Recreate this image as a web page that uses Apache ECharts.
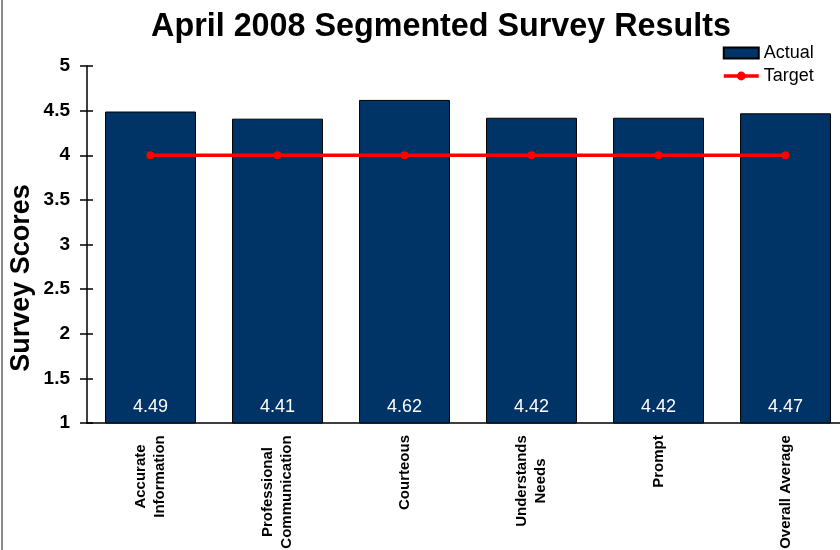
<!DOCTYPE html>
<html>
<head>
<meta charset="utf-8">
<script src="https://cdn.jsdelivr.net/npm/echarts@6/dist/echarts.min.js"></script>
<style>
  html, body { margin: 0; padding: 0; background: #fff; }
  #chart { width: 840px; height: 550px; }
</style>
</head>
<body>
<div id="chart"></div>
<script>
// Survey segments and their scores
const categories = [
  'Accurate\nInformation',
  'Professional\nCommunication',
  'Courteous',
  'Understands\nNeeds',
  'Prompt',
  'Overall Average'
];
const actualScores = [4.49, 4.41, 4.62, 4.42, 4.42, 4.47];
const targetScores = [4, 4, 4, 4, 4, 4];
const yTicks = { min: 1, max: 5, step: 0.5 };

const FONT = 'Arial, "Liberation Sans", sans-serif';
const CAT_FONT = 'bold 15px ' + FONT;

// Rotated category labels are centred line by line; pad each one by its
// widest line so the block starts right under the axis.
const measureCtx = document.createElement('canvas').getContext('2d');
measureCtx.font = CAT_FONT;
function widestLine(text) {
  return Math.max.apply(null, text.split('\n').map(function (l) {
    return measureCtx.measureText(l).width;
  }));
}
const categoryItems = categories.map(function (c) {
  return {
    value: c,
    textStyle: {
      align: 'center',
      verticalAlign: 'middle',
      padding: [0, Math.ceil(widestLine(c)), 0, 0]
    }
  };
});

const chart = echarts.init(document.getElementById('chart'), null, { renderer: 'canvas' });

const valueAxisBase = {
  type: 'value',
  min: yTicks.min,
  max: yTicks.max,
  interval: yTicks.step,
  splitLine: { show: false }
};

chart.setOption({
  animation: false,
  backgroundColor: '#ffffff',
  title: {
    text: 'April 2008 Segmented Survey Results',
    left: 436,
    textAlign: 'center',
    top: 6,
    textStyle: { fontFamily: FONT, fontSize: 32.3, fontWeight: 'bold', color: '#000' }
  },
  legend: {
    orient: 'vertical',
    left: 722,
    top: 44,
    padding: 0,
    itemWidth: 35,
    itemHeight: 11,
    itemGap: 5,
    textStyle: { fontFamily: FONT, fontSize: 18, color: '#000' },
    data: [
      { name: 'Actual', icon: 'rect' },
      { name: 'Target', lineStyle: { width: 3.5, color: '#ff0000' } }
    ]
  },
  grid: { left: 87, top: 66, bottom: 127, right: -9, containLabel: false, outerBoundsMode: 'none' },
  xAxis: {
    type: 'category',
    data: categoryItems,
    axisLine: { show: true, lineStyle: { color: '#000', width: 1.5 } },
    axisTick: { show: false },
    axisLabel: {
      interval: 0,
      rotate: 90,
      align: 'center',
      margin: 12,
      fontFamily: FONT,
      fontSize: 15,
      fontWeight: 'bold',
      color: '#000',
      lineHeight: 19
    }
  },
  yAxis: [
    Object.assign({}, valueAxisBase, {
      axisLine: { show: true, lineStyle: { color: '#000', width: 1.5 } },
      axisTick: { show: true, length: 7, lineStyle: { color: '#000', width: 1.5 } },
      axisLabel: { fontFamily: FONT, fontSize: 19, fontWeight: 'bold', color: '#000', margin: 17 }
    }),
    Object.assign({}, valueAxisBase, {
      position: 'left',
      axisLine: { show: false },
      axisTick: { show: true, inside: true, length: 6, lineStyle: { color: '#000', width: 1.5 } },
      axisLabel: { show: false }
    })
  ],
  series: [
    {
      name: 'Actual',
      type: 'bar',
      data: actualScores,
      barWidth: '71.6%',
      itemStyle: { color: '#003366', borderColor: '#000', borderWidth: 1 },
      label: {
        show: true,
        position: 'insideBottom',
        distance: 7,
        color: '#fff',
        fontFamily: FONT,
        fontSize: 18,
        formatter: function (p) { return p.value.toFixed(2); }
      },
      z: 2
    },
    {
      name: 'Target',
      type: 'line',
      data: targetScores,
      symbol: 'circle',
      symbolSize: 8,
      lineStyle: { color: '#ff0000', width: 3.5 },
      itemStyle: { color: '#ff0000' },
      z: 3
    }
  ],
  graphic: [
    {
      type: 'rect',
      shape: { x: 1, y: 0, width: 2, height: 550 },
      style: { fill: '#8c8c8c' },
      silent: true
    },
    {
      type: 'text',
      x: 22,
      y: 278,
      rotation: Math.PI / 2,
      style: {
        text: 'Survey Scores',
        fontFamily: FONT,
        fontSize: 27,
        fontWeight: 'bold',
        fill: '#000',
        align: 'center',
        verticalAlign: 'middle'
      },
      silent: true
    }
  ]
});
</script>
</body>
</html>
